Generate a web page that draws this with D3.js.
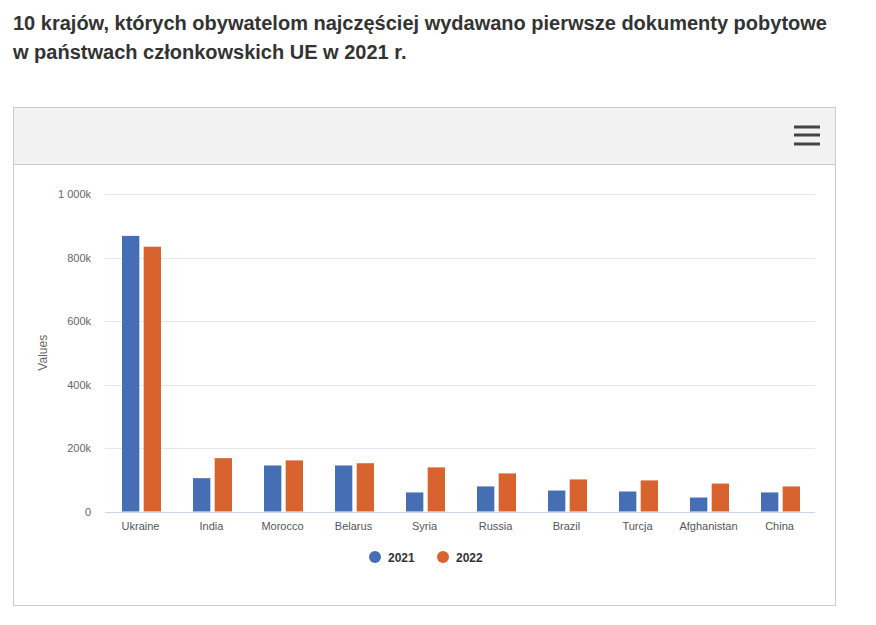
<!DOCTYPE html>
<html>
<head>
<meta charset="utf-8">
<script src="https://cdn.jsdelivr.net/npm/d3@7"></script>
<style>
  body { margin: 0; background: #fff; font-family: "Liberation Sans", Arial, sans-serif; }
  h2 { position: absolute; left: 13px; top: 9px; margin: 0; font-size: 20px; line-height: 29px; color: #333; font-weight: bold; }
</style>
</head>
<body>
<h2>10 krajów, których obywatelom najczęściej wydawano pierwsze dokumenty pobytowe<br>w państwach członkowskich UE w 2021 r.</h2>
<svg id="chart" width="876" height="625" style="position:absolute;left:0;top:0"></svg>
<script>
const countries = ["Ukraine", "India", "Morocco", "Belarus", "Syria", "Russia", "Brazil", "Turcja", "Afghanistan", "China"];
const years = ["2021", "2022"];
const values2021 = [868, 105, 145, 145, 60, 79, 66, 63, 44, 60];
const values2022 = [834, 168, 161, 152, 139, 120, 101, 98, 88, 79];
const yTicks = [0, 200, 400, 600, 800, 1000];

function drawBars(holder) {
  let svg = d3.select(holder);
  let margin = {left: 105, right: 61, top: 194, bottom: 114};
  let width = 876, height = 625;
  let colors = {"2021": "#466eb4", "2022": "#d8632e"};

  // container + header bar
  let box = svg.append("g");
  box.append("rect").attr("x", 13.5).attr("y", 107.5).attr("width", 822).attr("height", 498)
    .attr("fill", "#fff").attr("stroke", "#ccc");
  box.append("rect").attr("x", 14).attr("y", 108).attr("width", 821).attr("height", 56).attr("fill", "#f2f2f2");
  box.append("line").attr("x1", 14).attr("x2", 835).attr("y1", 164.5).attr("y2", 164.5).attr("stroke", "#ccc");
  [127, 135, 144].forEach(y => {
    box.append("rect").attr("x", 794).attr("y", y - 1.5).attr("width", 26).attr("height", 3).attr("fill", "#444");
  });

  let x = d3.scaleBand().domain(countries).range([margin.left, width - margin.right]);
  let xInner = d3.scaleBand().domain(years).range([17, x.bandwidth() - 15]).paddingInner(0.2);
  let y = d3.scaleLinear().domain([0, 1000]).range([height - margin.bottom + 0.5, margin.top]);

  // grid
  svg.append("g").selectAll("line").data(yTicks.filter(d => d > 0)).join("line")
    .attr("x1", margin.left).attr("x2", width - margin.right)
    .attr("y1", d => Math.round(y(d)) + 0.5).attr("y2", d => Math.round(y(d)) + 0.5)
    .attr("stroke", "#e6e6e6");

  // y labels
  svg.append("g").selectAll("text").data(yTicks).join("text")
    .attr("x", 91).attr("y", d => y(d) + 4)
    .attr("text-anchor", "end").attr("font-size", 11).attr("fill", "#666")
    .text(d => d === 0 ? "0" : (d >= 1000 ? "1 000k" : d + "k"));

  svg.append("text").attr("transform", "translate(47," + y(500) + ") rotate(-90)")
    .attr("text-anchor", "middle").attr("font-size", 12).attr("fill", "#666").text("Values");

  // bars
  let data = countries.map((c, i) => ({c: c, v: [values2021[i], values2022[i]]}));
  let groups = svg.append("g").selectAll("g").data(data).join("g")
    .attr("transform", d => "translate(" + x(d.c) + ",0)");
  groups.selectAll("rect").data(d => years.map((yr, j) => ({yr: yr, v: d.v[j]}))).join("rect")
    .attr("x", d => xInner(d.yr)).attr("width", xInner.bandwidth())
    .attr("y", d => y(d.v)).attr("height", d => y(0) - y(d.v))
    .attr("fill", d => colors[d.yr]);

  // baseline
  svg.append("line").attr("x1", margin.left).attr("x2", width - margin.right)
    .attr("y1", Math.round(y(0)) + 0.5).attr("y2", Math.round(y(0)) + 0.5).attr("stroke", "#ccd6eb");

  // x labels
  svg.append("g").selectAll("text").data(countries).join("text")
    .attr("x", d => x(d) + x.bandwidth() / 2).attr("y", 530)
    .attr("text-anchor", "middle").attr("font-size", 11).attr("fill", "#555").text(d => d);

  // legend
  let legend = svg.append("g");
  let lx = [375, 443];
  years.forEach((yr, i) => {
    legend.append("circle").attr("cx", lx[i]).attr("cy", 557).attr("r", 6).attr("fill", colors[yr]);
    legend.append("text").attr("x", lx[i] + 13).attr("y", 561.5)
      .attr("font-size", 12).attr("font-weight", "bold").attr("fill", "#333").text(yr);
  });
}

drawBars("#chart");
</script>
</body>
</html>
